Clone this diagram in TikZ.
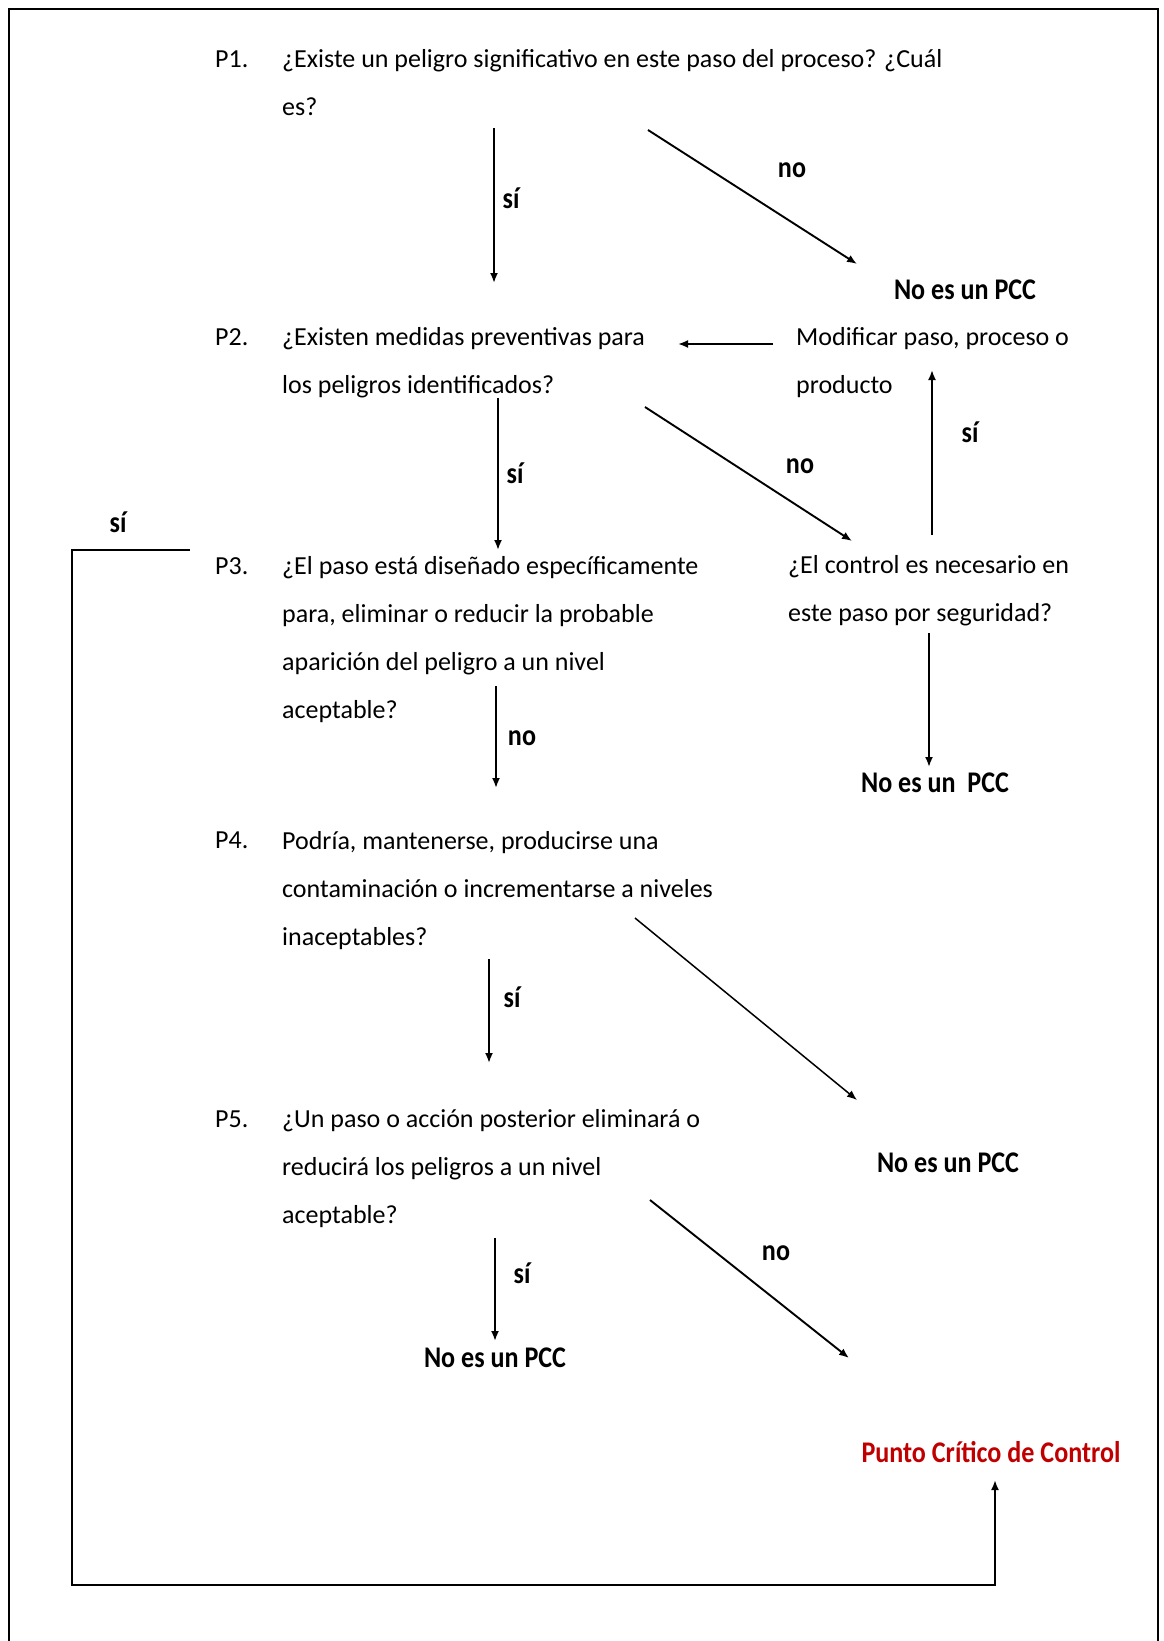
\documentclass[tikz,border=0pt]{standalone}
\usepackage{fontspec}
\setmainfont{Carlito}
\newfontfamily\bcond[FakeStretch=0.87]{Carlito}
\usetikzlibrary{arrows.meta}
\definecolor{pccred}{RGB}{192,0,0}
\begin{document}
\begin{tikzpicture}[x=1pt,y=-1pt,
  % anchor base west of a multi-line node = baseline of its LAST line
  q/.style={anchor=base west, inner sep=0pt, font=\fontsize{26}{48}\selectfont, align=left},
  yn/.style={inner sep=0pt, font=\bcond\bfseries\fontsize{30}{36}\selectfont},
  res/.style={inner sep=0pt, font=\bcond\bfseries\fontsize{30}{36}\selectfont},
  arr/.style={line width=1.9pt, -{Latex[length=10pt,width=8pt]}},
  frame/.style={line width=2.5pt},
]
\useasboundingbox (0,0) rectangle (1164,1641);
\draw[frame] (9,1645) -- (9,9) -- (1158,9) -- (1158,1645);

% questions
\node[q] (p1l) at (215,67) {P1.};
\node[q] (p1) at (282,115) {¿Existe un peligro significativo en este paso del proceso? ¿Cuál\\es?};
\node[q] (p2l) at (215,345) {P2.};
\node[q] (p2) at (282,393) {¿Existen medidas preventivas para\\los peligros identificados?};
\node[q] (p3l) at (215,574) {P3.};
\node[q] (p3) at (282,718) {¿El paso está diseñado específicamente\\para, eliminar o reducir la probable\\aparición del peligro a un nivel\\aceptable?};
\node[q] (p4l) at (215,848) {P4.};
\node[q] (p4) at (282,945) {Podría, mantenerse, producirse una\\contaminación o incrementarse a niveles\\inaceptables?};
\node[q] (p5l) at (215,1127) {P5.};
\node[q] (p5) at (282,1223) {¿Un paso o acción posterior eliminará o\\reducirá los peligros a un nivel\\aceptable?};
\node[q] (mod) at (796,393) {Modificar paso, proceso o\\producto};
\node[q] (ctl) at (788,621) {¿El control es necesario en\\este paso por seguridad?};

% results
\node[res] (r1) at (965,290) {No es un PCC};
\node[res] (r2) at (935,783) {No es un\ \ PCC};
\node[res] (r3) at (948,1163) {No es un PCC};
\node[res] (r4) at (495,1358) {No es un PCC};
\node[res, text=pccred] (pcc) at (991,1452) {Punto Crítico de Control};

% yes/no labels
\node[yn] (s1) at (511,198) {sí};
\node[yn] (n1) at (792,170) {no};
\node[yn] (s2) at (515,473) {sí};
\node[yn] (n2) at (800,466) {no};
\node[yn] (s3) at (970,432) {sí};
\node[yn] (s0) at (118,522) {sí};
\node[yn] (n3) at (522,738) {no};
\node[yn] (s4) at (512,997) {sí};
\node[yn] (n5) at (776,1253) {no};
\node[yn] (s5) at (522,1273) {sí};

% connector end points
\coordinate (a1s) at (494,128);  \coordinate (a1e) at (494,283);
\coordinate (a2s) at (648,130);  \coordinate (a2e) at (857,264);
\coordinate (a3s) at (773,344);  \coordinate (a3e) at (678,344);
\coordinate (a4s) at (932,535);  \coordinate (a4e) at (932,370);
\coordinate (a5s) at (498,398);  \coordinate (a5e) at (498,550);
\coordinate (a6s) at (645,407);  \coordinate (a6e) at (852,541);
\coordinate (a7s) at (496,686);  \coordinate (a7e) at (496,788);
\coordinate (a8s) at (929,633);  \coordinate (a8e) at (929,767);
\coordinate (a9s) at (489,959);  \coordinate (a9e) at (489,1063);
\coordinate (a10s) at (635,918); \coordinate (a10e) at (857,1100);
\coordinate (a11s) at (495,1238); \coordinate (a11e) at (495,1341);
\coordinate (a12s) at (650,1200); \coordinate (a12e) at (849,1358);
\coordinate (ls) at (190,550);
\coordinate (lc1) at (72,550);
\coordinate (lc2) at (72,1585);
\coordinate (lc3) at (995,1585);
\coordinate (le) at (995,1480);

\draw[arr] (a1s) -- (a1e);
\draw[arr] (a2s) -- (a2e);
\draw[arr] (a3s) -- (a3e);
\draw[arr] (a4s) -- (a4e);
\draw[arr] (a5s) -- (a5e);
\draw[arr] (a6s) -- (a6e);
\draw[arr] (a7s) -- (a7e);
\draw[arr] (a8s) -- (a8e);
\draw[arr] (a9s) -- (a9e);
\draw[arr, line width=1.5pt] (a10s) -- (a10e);
\draw[arr] (a11s) -- (a11e);
\draw[arr] (a12s) -- (a12e);
\draw[arr, line width=2.2pt] (ls) -- (lc1) -- (lc2) -- (lc3) -- (le);
\end{tikzpicture}
\end{document}
